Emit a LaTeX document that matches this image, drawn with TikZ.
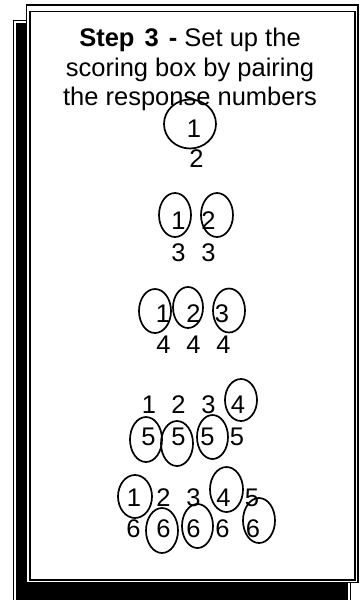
\documentclass[tikz,border=0pt]{standalone}
\usepackage{fontspec}
\setmainfont{Liberation Sans}

\begin{document}
\begin{tikzpicture}[x=1pt, y=-1pt,
  num/.style={inner sep=0pt, font=\fontsize{25.5}{29.5}\selectfont},
  ring/.style={line width=1.7pt}]
\useasboundingbox (0,0) rectangle (359,600);

% shadow and double frame
\draw[line width=0.8pt] (13.8,600) -- (13.8,20.5) -- (350.7,20.5) -- (350.7,600);
\fill[black] (16.2,22.5) rectangle (348,600);
\draw[fill=white, line width=1.4pt] (26.2,5) rectangle (357.8,582.5);
\draw[line width=1.8pt] (30.3,11.5) rectangle (354.8,580);

\node[num, align=center, anchor=north] (title) at (190,28)
  {\textbf{Step\hspace{3pt} 3\hspace{3pt} -} Set up the\\scoring box by pairing\\the response numbers};

% 2 responses
\node[num] (a1) at (194,129) {1};
\node[num] (a2) at (196.5,159) {2};
\draw[ring] (190,124) ellipse [x radius=26pt, y radius=24.5pt];

% 3 responses
\node[num] (b1) at (178.5,221) {1};
\node[num] (b2) at (208.5,221) {2};
\node[num] (b3l) at (178.5,253) {3};
\node[num] (b3r) at (208.5,253) {3};
\draw[ring] (175,215) ellipse [x radius=16pt, y radius=22pt];
\draw[ring] (217,215) ellipse [x radius=16pt, y radius=22pt];

% 4 responses
\node[num] (c1) at (163,314) {1};
\node[num] (c2) at (193.5,314) {2};
\node[num] (c3) at (222,314) {3};
\node[num] (c4a) at (163.5,345) {4};
\node[num] (c4b) at (193.5,345) {4};
\node[num] (c4c) at (223.5,345) {4};
\draw[ring] (155,311) ellipse [x radius=16pt, y radius=22pt];
\draw[ring] (188,307.5) ellipse [x radius=15pt, y radius=20.5pt];
\draw[ring] (229,310.5) ellipse [x radius=16pt, y radius=22pt];

% 5 responses
\node[num] (d1) at (149,405) {1};
\node[num] (d2) at (178.5,405) {2};
\node[num] (d3) at (208.5,405) {3};
\node[num] (d4) at (238,405) {4};
\node[num] (d5a) at (148.5,436.5) {5};
\node[num] (d5b) at (178.5,436.5) {5};
\node[num] (d5c) at (207.5,436.5) {5};
\node[num] (d5d) at (237,436.5) {5};
\draw[ring] (241,400) ellipse [x radius=16pt, y radius=21pt];
\draw[ring] (146,439.5) ellipse [x radius=16pt, y radius=22.5pt];
\draw[ring] (177,443.5) ellipse [x radius=16pt, y radius=22.5pt];
\draw[ring] (212.5,437) ellipse [x radius=15.5pt, y radius=22pt];

% 6 responses
\node[num] (e1) at (134,497.5) {1};
\node[num] (e2) at (163.5,497.5) {2};
\node[num] (e3) at (193.5,497.5) {3};
\node[num] (e4) at (223.5,497.5) {4};
\node[num] (e5) at (252,497.5) {5};
\node[num] (e6a) at (133.5,528.5) {6};
\node[num] (e6b) at (163.5,528.5) {6};
\node[num] (e6c) at (193.5,528.5) {6};
\node[num] (e6d) at (222.5,528.5) {6};
\node[num] (e6e) at (253,528.5) {6};
\draw[ring] (135,496.5) ellipse [x radius=17pt, y radius=21.5pt];
\draw[ring] (226.5,489.5) ellipse [x radius=16.5pt, y radius=22.5pt];
\draw[ring] (162,530.5) ellipse [x radius=16pt, y radius=22.5pt];
\draw[ring] (197.5,526) ellipse [x radius=15.5pt, y radius=22pt];
\draw[ring] (259,520.5) ellipse [x radius=16pt, y radius=22.5pt];
\end{tikzpicture}
\end{document}
